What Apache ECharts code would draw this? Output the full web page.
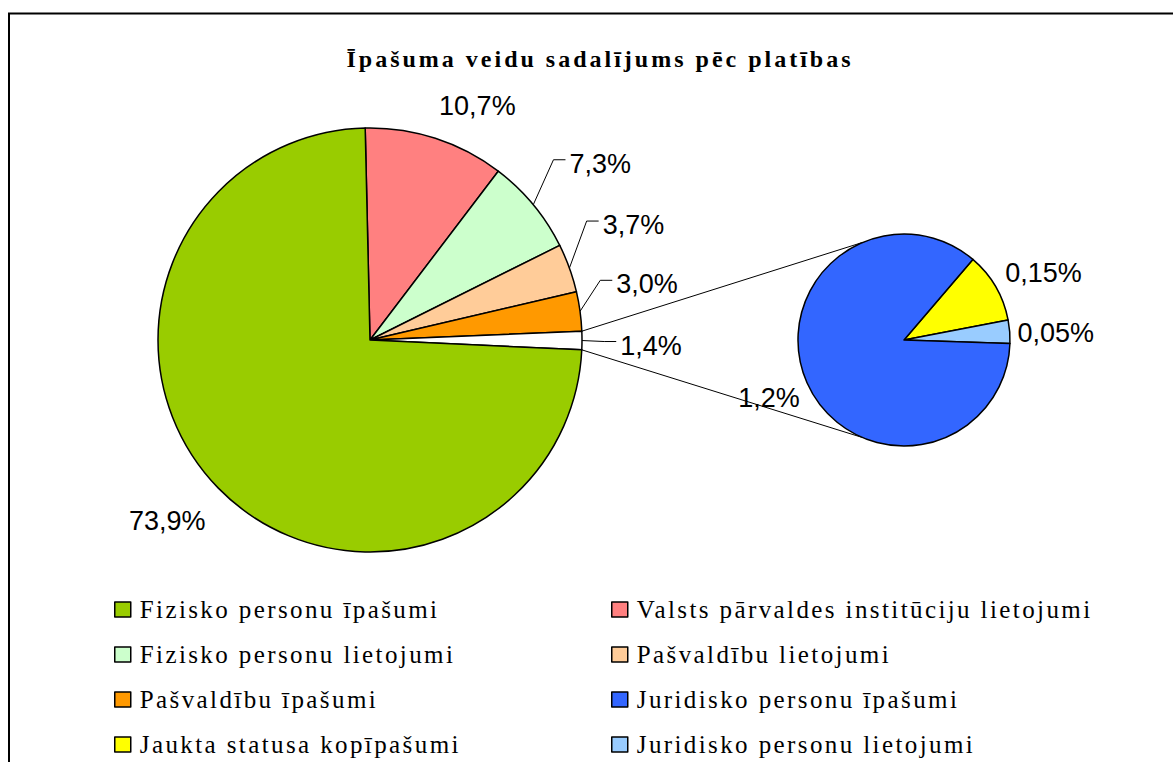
<!DOCTYPE html>
<html>
<head>
<meta charset="utf-8">
<script src="https://cdn.jsdelivr.net/npm/echarts@6/dist/echarts.min.js"></script>
<style>
  html, body { margin: 0; padding: 0; background: #fff; }
  #main { width: 1173px; height: 762px; }
</style>
</head>
<body>
<div id="main"></div>
<script>
// main pie, clockwise from the top
var mainNames = ['Valsts pārvaldes institūciju lietojumi', 'Fizisko personu lietojumi', 'Pašvaldību lietojumi', 'Pašvaldību īpašumi', 'Citi', 'Fizisko personu īpašumi'];
var mainValues = [10.7, 7.3, 3.7, 3.0, 1.4, 73.9];
// second pie = the 1,4% slice split up
var subNames = ['Jaukta statusa kopīpašumi', 'Juridisko personu lietojumi', 'Juridisko personu īpašumi'];
var subValues = [0.15, 0.05, 1.2];
// legend columns
var legendLeft = ['Fizisko personu īpašumi', 'Fizisko personu lietojumi', 'Pašvaldību īpašumi', 'Jaukta statusa kopīpašumi'];
var legendRight = ['Valsts pārvaldes institūciju lietojumi', 'Pašvaldību lietojumi', 'Juridisko personu īpašumi', 'Juridisko personu lietojumi'];

var colors = {
  'Fizisko personu īpašumi': '#99CC00',
  'Valsts pārvaldes institūciju lietojumi': '#FF8080',
  'Fizisko personu lietojumi': '#CCFFCC',
  'Pašvaldību lietojumi': '#FFCC99',
  'Pašvaldību īpašumi': '#FF9900',
  'Citi': '#FFFFFF',
  'Juridisko personu īpašumi': '#3366FF',
  'Jaukta statusa kopīpašumi': '#FFFF00',
  'Juridisko personu lietojumi': '#99CCFF'
};

// layout
var mainCenter = [370, 340], mainRadius = 212, mainStart = 91.3;
var subCenter = [904, 340], subRadius = 106, subStart = 49.5;
var subJoin = 113; // where the connector lines meet the small pie (deg)
// label centre, offset from the slice edge midpoint
var mainLabelShift = [[42, -32], [67, -41], [64, -43], [67, -27], [69, 5], [-51, 33]];
var mainLabelLine = [false, true, true, true, true, false];
var subLabelShift = [[48, -14], [46, 1], [-38, 15]];

var myChart = echarts.init(document.getElementById('main'), null, {renderer: 'svg'});

function total(arr) {
  return arr.reduce(function (a, b) { return a + b; }, 0);
}
function angleAt(values, start, i, frac) {
  var before = 0;
  for (var k = 0; k < i; k++) before += values[k];
  return start - (before + values[i] * frac) / total(values) * 360;
}
function onCircle(center, r, deg) {
  var a = deg * Math.PI / 180;
  return [center[0] + r * Math.cos(a), center[1] - r * Math.sin(a)];
}
function fmt(v) {
  return (v < 1 ? v.toFixed(2) : v.toFixed(1)).replace('.', ',') + '%';
}
function labelPlacer(values, center, r, start, shifts, lines) {
  return function (p) {
    var i = p.dataIndex;
    var e = onCircle(center, r, angleAt(values, start, i, 0.5));
    var cx = e[0] + shifts[i][0], cy = e[1] + shifts[i][1];
    var out = {x: cx, y: cy, align: 'center', verticalAlign: 'middle'};
    if (lines && lines[i]) {
      var lx = cx - p.labelRect.width / 2;
      out.labelLinePoints = [e, [lx - 16, cy - 4], [lx - 4, cy - 4]];
    }
    return out;
  };
}

var otherIdx = mainNames.indexOf('Citi');
var joinTop = onCircle(mainCenter, mainRadius, angleAt(mainValues, mainStart, otherIdx, 0));
var joinBottom = onCircle(mainCenter, mainRadius, angleAt(mainValues, mainStart, otherIdx, 1));
var subTop = onCircle(subCenter, subRadius, subJoin);
var subBottom = onCircle(subCenter, subRadius, -subJoin);

var labelFont = {fontFamily: 'Liberation Sans', fontSize: 27, color: '#000'};
var legendText = {fontFamily: 'Liberation Serif', fontSize: 25, color: '#000', padding: [0, 0, 0, 4]};

function legendColumn(names, left) {
  return {
    data: names, orient: 'vertical', left: left, top: 592, height: 200,
    itemWidth: 16, itemHeight: 15, itemGap: 20, icon: 'rect',
    itemStyle: {borderColor: '#000', borderWidth: 1.5},
    selectedMode: false, textStyle: legendText
  };
}

myChart.setOption({
  animation: false,
  title: {
    text: 'Īpašuma veidu sadalījums pēc platības',
    left: 595,
    top: 42,
    textAlign: 'center',
    textStyle: {fontFamily: 'Liberation Serif', fontWeight: 'bold', fontSize: 24, color: '#000'}
  },
  legend: [legendColumn(legendLeft, 109), legendColumn(legendRight, 606)],
  graphic: [
    {type: 'rect', silent: true, z: -1, shape: {x: 9, y: 13.5, width: 1300, height: 900},
      style: {fill: 'none', stroke: '#000', lineWidth: 2}},
    {type: 'line', silent: true, shape: {x1: joinTop[0], y1: joinTop[1], x2: subTop[0], y2: subTop[1]},
      style: {stroke: '#000', lineWidth: 1}},
    {type: 'line', silent: true, shape: {x1: joinBottom[0], y1: joinBottom[1], x2: subBottom[0], y2: subBottom[1]},
      style: {stroke: '#000', lineWidth: 1}}
  ],
  series: [
    {
      name: 'main',
      type: 'pie',
      center: mainCenter,
      radius: mainRadius,
      startAngle: mainStart,
      clockwise: true,
      avoidLabelOverlap: false,
      emphasis: {disabled: true},
      itemStyle: {borderColor: '#000', borderWidth: 1.5},
      label: {show: true, position: 'outside', formatter: function (p) { return fmt(p.value); }},
      labelLine: {show: true, length: 10, length2: 10, lineStyle: {color: '#000', width: 1}},
      labelLayout: labelPlacer(mainValues, mainCenter, mainRadius, mainStart, mainLabelShift, mainLabelLine),
      data: mainNames.map(function (n, i) {
        return {
          name: n, value: mainValues[i],
          itemStyle: {color: colors[n]},
          label: labelFont,
          labelLine: {show: mainLabelLine[i]}
        };
      })
    },
    {
      name: 'sub',
      type: 'pie',
      center: subCenter,
      radius: subRadius,
      startAngle: subStart,
      clockwise: true,
      avoidLabelOverlap: false,
      emphasis: {disabled: true},
      itemStyle: {borderColor: '#000', borderWidth: 1.5},
      label: {show: true, position: 'outside', formatter: function (p) { return fmt(p.value); }},
      labelLine: {show: false},
      labelLayout: labelPlacer(subValues, subCenter, subRadius, subStart, subLabelShift, null),
      data: subNames.map(function (n, i) {
        return {name: n, value: subValues[i], itemStyle: {color: colors[n]}, label: labelFont};
      })
    }
  ]
});

// the original uses spaced-out serif text
function spaceOut() {
  document.querySelectorAll('#main text').forEach(function (t) {
    var s = t.getAttribute('style') || '';
    if (s.indexOf('Serif') > -1) {
      t.setAttribute('letter-spacing', s.indexOf('bold') > -1 ? '3px' : '2.4px');
    }
  });
}
spaceOut();
myChart.on('finished', spaceOut);
</script>
</body>
</html>
